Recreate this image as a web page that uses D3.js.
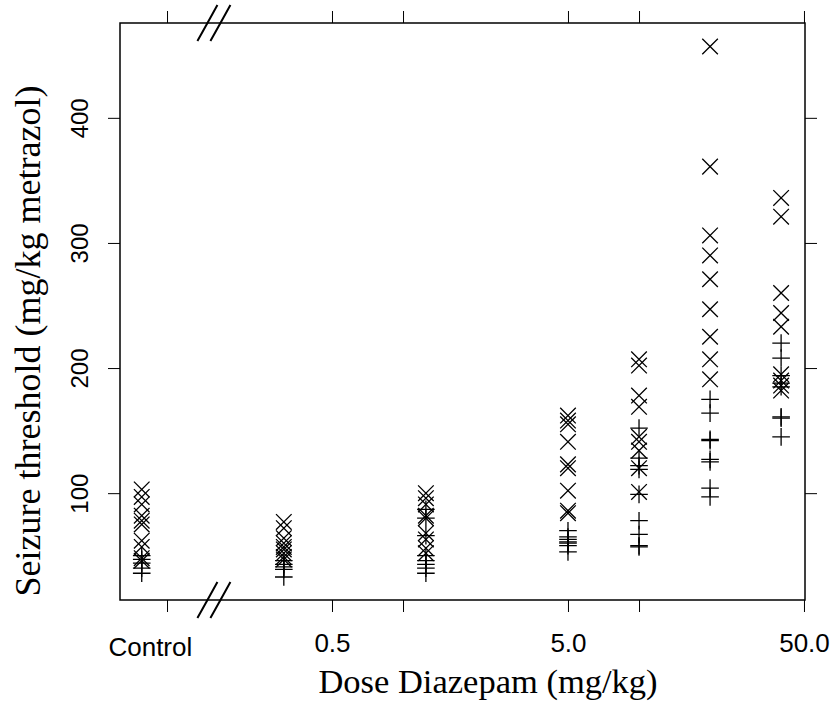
<!DOCTYPE html>
<html>
<head>
<meta charset="utf-8">
<script src="https://cdn.jsdelivr.net/npm/d3@7"></script>
<style>
  body { margin: 0; background: #fff; }
  svg { display: block; }
</style>
</head>
<body>
<svg id="chart"></svg>
<script>
// dose groups (mg/kg), control drawn at the far left of the log axis
const doses = [0.078125, 0.3125, 1.25, 5, 10, 20, 40];

// seizure thresholds, one list per dose
const crossValues = [
  [103, 97, 91, 82, 78, 75, 62, 57, 48, 46],
  [77, 72, 64, 60, 57, 55, 52, 49, 47],
  [100, 96, 91, 82, 80, 68, 63, 56, 52],
  [162, 158, 155, 141, 123, 120, 102, 86, 84],
  [207, 202, 178, 169, 145, 141, 134, 120, 101],
  [457, 361, 306, 290, 271, 247, 225, 207, 191],
  [336, 321, 260, 244, 233, 195, 190, 186, 182]
];
const plusValues = [
  [50, 47, 44, 40, 36],
  [46, 43, 41, 39, 33],
  [87, 80, 66, 50, 46, 43, 40, 36],
  [70, 65, 63, 61, 60, 58, 53],
  [152, 128, 122, 119, 99, 78, 67, 58, 57],
  [175, 164, 143, 142, 127, 125, 104, 97],
  [220, 208, 194, 188, 185, 161, 160, 145]
];

const xTickValues = [0.1, 0.5, 1, 5, 10, 50];
const xTickLabels = ["", "0.5", "", "5.0", "", "50.0"];
const controlLabel = "Control";
const yTickValues = [100, 200, 300, 400];

const width = 830;
const height = 702;
const margin = {top: 23, right: 25, bottom: 102, left: 120};
const x0 = margin.left, x1 = width - margin.right;
const y0 = height - margin.bottom, y1 = margin.top;

const svg = d3.select("#chart")
    .attr("width", width)
    .attr("height", height);

const x = d3.scaleLog()
    .domain([0.0632, 50.5])
    .range([x0, x1]);

const y = d3.scaleLinear()
    .domain([14.6, 475.8])
    .range([y0, y1]);

const sans = "'Liberation Sans', Arial, Helvetica, sans-serif";
const serif = "'Liberation Serif', 'Times New Roman', serif";

// points
const points = [];
doses.forEach(function(d, i) {
    crossValues[i].forEach(v => points.push({dose: d, value: v, type: "cross"}));
    plusValues[i].forEach(v => points.push({dose: d, value: v, type: "plus"}));
});

const symbolPath = {
    cross: "M-7.8,-7.8L7.8,7.8M-7.8,7.8L7.8,-7.8",
    plus: "M-8.8,0H8.8M0,-8.8V8.8"
};

svg.append("g")
    .selectAll("path")
    .data(points)
    .join("path")
        .attr("d", d => symbolPath[d.type])
        .attr("transform", d => `translate(${x(d.dose)},${y(d.value)})`)
        .attr("fill", "none")
        .attr("stroke", "#000")
        .attr("stroke-width", 1.3);

// axes: ticks outside on all four sides, labels bottom and left only
function styleAxis(g) {
    g.select(".domain").remove();
    g.selectAll("line").attr("stroke", "#000").attr("stroke-width", 1);
    g.selectAll("text").attr("fill", "#000");
}

svg.append("g")
    .attr("transform", `translate(0,${y0})`)
    .call(d3.axisBottom(x).tickValues(xTickValues)
        .tickFormat((d, i) => xTickLabels[i])
        .tickSize(12).tickPadding(22))
    .call(styleAxis)
    .call(g => g.selectAll("text").attr("font-family", sans).attr("font-size", 26));

svg.append("g")
    .attr("transform", `translate(0,${y1})`)
    .call(d3.axisTop(x).tickValues(xTickValues).tickFormat("").tickSize(12))
    .call(styleAxis);

svg.append("g")
    .attr("transform", `translate(${x0},0)`)
    .call(d3.axisLeft(y).tickValues(yTickValues).tickSize(12).tickPadding(14))
    .call(styleAxis)
    .call(g => g.selectAll("text")
        .attr("font-family", sans).attr("font-size", 24)
        .attr("text-anchor", "middle")
        .attr("dy", 0)
        .attr("transform", function() {
            const xx = +d3.select(this).attr("x");
            return `translate(${xx - 6},0) rotate(-90)`;
        })
        .attr("x", 0));

svg.append("g")
    .attr("transform", `translate(${x1},0)`)
    .call(d3.axisRight(y).tickValues(yTickValues).tickFormat("").tickSize(12))
    .call(styleAxis);

// control label sits a little left of its tick
svg.append("text")
    .attr("x", x(0.085))
    .attr("y", y0 + 56)
    .attr("text-anchor", "middle")
    .attr("font-family", sans)
    .attr("font-size", 26)
    .text(controlLabel);

// frame
svg.append("rect")
    .attr("x", x0).attr("y", y1)
    .attr("width", x1 - x0).attr("height", y0 - y1)
    .attr("fill", "none")
    .attr("stroke", "#000")
    .attr("stroke-width", 1.5);

// axis break marks between control and the first dose
const breakX = x(0.158);
[y1, y0].forEach(function(cy) {
    [-6.5, 6.5].forEach(function(off) {
        const cx = breakX + off;
        svg.append("path")
            .attr("d", `M${cx - 10},${cy + 18}Q${cx - 1},${cy + 2} ${cx + 10},${cy - 18}`)
            .attr("fill", "none")
            .attr("stroke", "#000")
            .attr("stroke-width", 2);
    });
});

// titles
svg.append("text")
    .attr("x", 488)
    .attr("y", 693)
    .attr("text-anchor", "middle")
    .attr("font-family", serif)
    .attr("font-size", 34.5)
    .text("Dose Diazepam (mg/kg)");

svg.append("text")
    .attr("transform", "translate(40,341) rotate(-90)")
    .attr("text-anchor", "middle")
    .attr("font-family", serif)
    .attr("font-size", 36)
    .text("Seizure threshold (mg/kg metrazol)");
</script>
</body>
</html>
